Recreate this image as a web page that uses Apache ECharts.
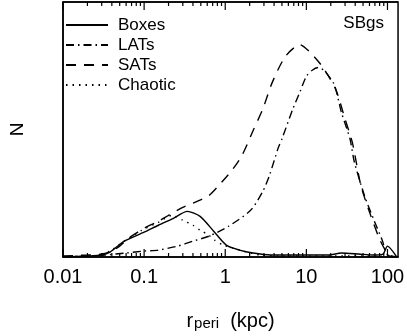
<!DOCTYPE html>
<html>
<head>
<meta charset="utf-8">
<script src="https://cdn.jsdelivr.net/npm/echarts@6/dist/echarts.min.js"></script>
<style>
  html, body { margin: 0; padding: 0; background: #fff; }
  #main { width: 407px; height: 336px; }
</style>
</head>
<body>
<div id="main"></div>
<script>
// pericentre distribution (r in kpc, N arbitrary units)
var boxesR = [0.01, 0.02, 0.03, 0.038, 0.057, 0.1, 0.15, 0.23, 0.34, 0.49, 0.72, 1.03, 1.5, 2.2, 3.6, 8, 19, 27, 44, 66, 88, 100, 130];
var boxesN = [0, 1, 2, 5, 16, 25, 32, 39, 46, 41, 26, 12, 7, 4, 2, 2, 2, 4, 3, 2, 3, 11, 0];

var latsR = [0.01, 0.02, 0.033, 0.06, 0.1, 0.15, 0.26, 0.4, 0.63, 1.1, 2.05, 2.9, 3.5, 4.5, 5, 6.8, 8.3, 10, 11.7, 14, 16.5, 22, 27, 34.5, 39, 52, 69, 87, 95, 105, 130];
var latsN = [0, 1, 2, 4, 6, 7, 11, 16, 21, 31, 47, 66, 82, 110, 119, 149, 166, 182, 188, 191, 188, 174, 146, 119, 96, 62, 36, 16, 5, 1, 0];

var satsR = [0.01, 0.02, 0.03, 0.04, 0.05, 0.07, 0.1, 0.15, 0.2, 0.3, 0.45, 0.63, 0.83, 1.2, 1.6, 2.25, 2.9, 3.8, 5.5, 8.3, 10.9, 15.7, 23, 30, 37, 47, 62, 79, 91, 105, 130];
var satsN = [1, 2, 3, 6, 11, 21, 29, 36, 42, 50, 56, 62, 72, 87, 102, 129, 149, 176, 202, 214, 207, 192, 169, 139, 115, 72, 42, 19, 9, 2, 0];

var chaoticR = [0.01, 0.02, 0.03, 0.038, 0.057, 0.094, 0.15, 0.22, 0.3, 0.4, 0.49, 0.63, 0.74, 0.95, 1.25, 1.67, 2.7, 5, 20, 60, 130];
var chaoticN = [0, 1, 2, 6, 16, 27, 35, 42, 37, 32, 27, 22, 17, 12, 9, 6, 2, 1, 1, 1, 0];

var majorTicks = [0.01, 0.1, 1, 10, 100];
var tickLabels = ['0.01', '0.1', '1', '10', '100'];
var rMin = 0.01, rMax = 135, nMax = 257;

// minor ticks 2..9 in every decade
var minorTicks = [];
majorTicks.forEach(function (d) {
  for (var k = 2; k <= 9; k++) {
    if (d * k < rMax) minorTicks.push(d * k);
  }
});

var font = 'Liberation Sans, Arial, sans-serif';
var lg = Math.log10;

// x axis runs in log10(r)
function pairs(r, n) {
  return r.map(function (v, i) { return [lg(v), n[i]]; });
}

function line(name, r, n, type) {
  return {
    name: name, type: 'line', data: pairs(r, n),
    symbol: 'none', smooth: 0.25,
    lineStyle: { color: '#000', width: 1.4, type: type },
    itemStyle: { color: '#000' }
  };
}

// inward ticks on bottom and top edge, placed with api.coord
var tickData = majorTicks.map(function (t) { return [lg(t), 8]; })
  .concat(minorTicks.map(function (t) { return [lg(t), 4]; }));

function renderTick(params, api) {
  var x = api.value(0), len = api.value(1);
  var b = api.coord([x, 0]), t = api.coord([x, nMax]);
  var st = { stroke: '#000', lineWidth: 1.2 };
  return {
    type: 'group',
    children: [
      { type: 'line', shape: { x1: b[0], y1: b[1], x2: b[0], y2: b[1] - len }, style: st },
      { type: 'line', shape: { x1: t[0], y1: t[1], x2: t[0], y2: t[1] + len }, style: st }
    ]
  };
}

// top edge of the frame
function renderTop(params, api) {
  var a = api.coord([lg(rMin), nMax]), b = api.coord([lg(rMax), nMax]);
  return { type: 'line', shape: { x1: a[0], y1: a[1], x2: b[0], y2: b[1] }, style: { stroke: '#000', lineWidth: 1.5 } };
}

var chart = echarts.init(document.getElementById('main'));
chart.setOption({
  animation: false,
  title: {
    text: 'SBgs', right: 23, top: 15, padding: 0,
    textStyle: { fontSize: 17, fontWeight: 'normal', fontFamily: font, color: '#000' }
  },
  legend: {
    orient: 'vertical', left: 65, top: 15, padding: 0,
    itemWidth: 42, itemHeight: 20, itemGap: 0,
    itemStyle: { opacity: 0 },
    textStyle: { fontSize: 17, lineHeight: 20, fontFamily: font, color: '#000', padding: [0, 0, 0, 5] },
    data: ['Boxes', 'LATs', 'SATs', 'Chaotic']
  },
  grid: { left: 58, right: 6, top: 2, bottom: 77, show: true, borderColor: '#000', borderWidth: 1.5, backgroundColor: 'transparent' },
  xAxis: {
    type: 'value', min: lg(rMin), max: lg(rMax), interval: 1,
    axisLine: { show: true, onZero: false, lineStyle: { color: '#000', width: 1.5 } },
    axisTick: { show: false },
    axisLabel: {
      show: true, showMaxLabel: false, margin: 10, color: '#000', fontSize: 20, fontFamily: font,
      formatter: function (v) {
        var i = Math.round(v);
        return Math.abs(v - i) < 1e-6 ? tickLabels[i + 2] : '';
      }
    },
    splitLine: { show: false },
    name: '{r|r}{s|peri}{r|  (kpc)}',
    nameLocation: 'middle', nameGap: 50,
    nameTextStyle: {
      rich: {
        r: { fontSize: 20, fontFamily: font, color: '#000', verticalAlign: 'bottom' },
        s: { fontSize: 15, fontFamily: font, color: '#000', padding: [9, 0, 0, 1], verticalAlign: 'bottom' }
      }
    }
  },
  yAxis: {
    type: 'value', min: 0, max: nMax,
    name: 'N', nameLocation: 'middle', nameGap: 36, nameRotate: 90,
    nameTextStyle: { fontSize: 19, fontFamily: font, color: '#000' },
    axisLine: { show: true, onZero: false, lineStyle: { color: '#000', width: 1.5 } },
    axisTick: { show: false }, axisLabel: { show: false }, splitLine: { show: false }
  },
  series: [
    line('Boxes', boxesR, boxesN, 'solid'),
    line('LATs', latsR, latsN, [8, 4, 1.5, 4]),
    line('SATs', satsR, satsN, [10, 8]),
    line('Chaotic', chaoticR, chaoticN, [1.5, 5]),
    { name: 'ticks', type: 'custom', data: tickData, renderItem: renderTick, silent: true, clip: false, z: 5 },
    { name: 'frame', type: 'custom', data: [[lg(rMin), nMax]], renderItem: renderTop, silent: true, clip: false, z: 5 }
  ]
});
</script>
</body>
</html>
